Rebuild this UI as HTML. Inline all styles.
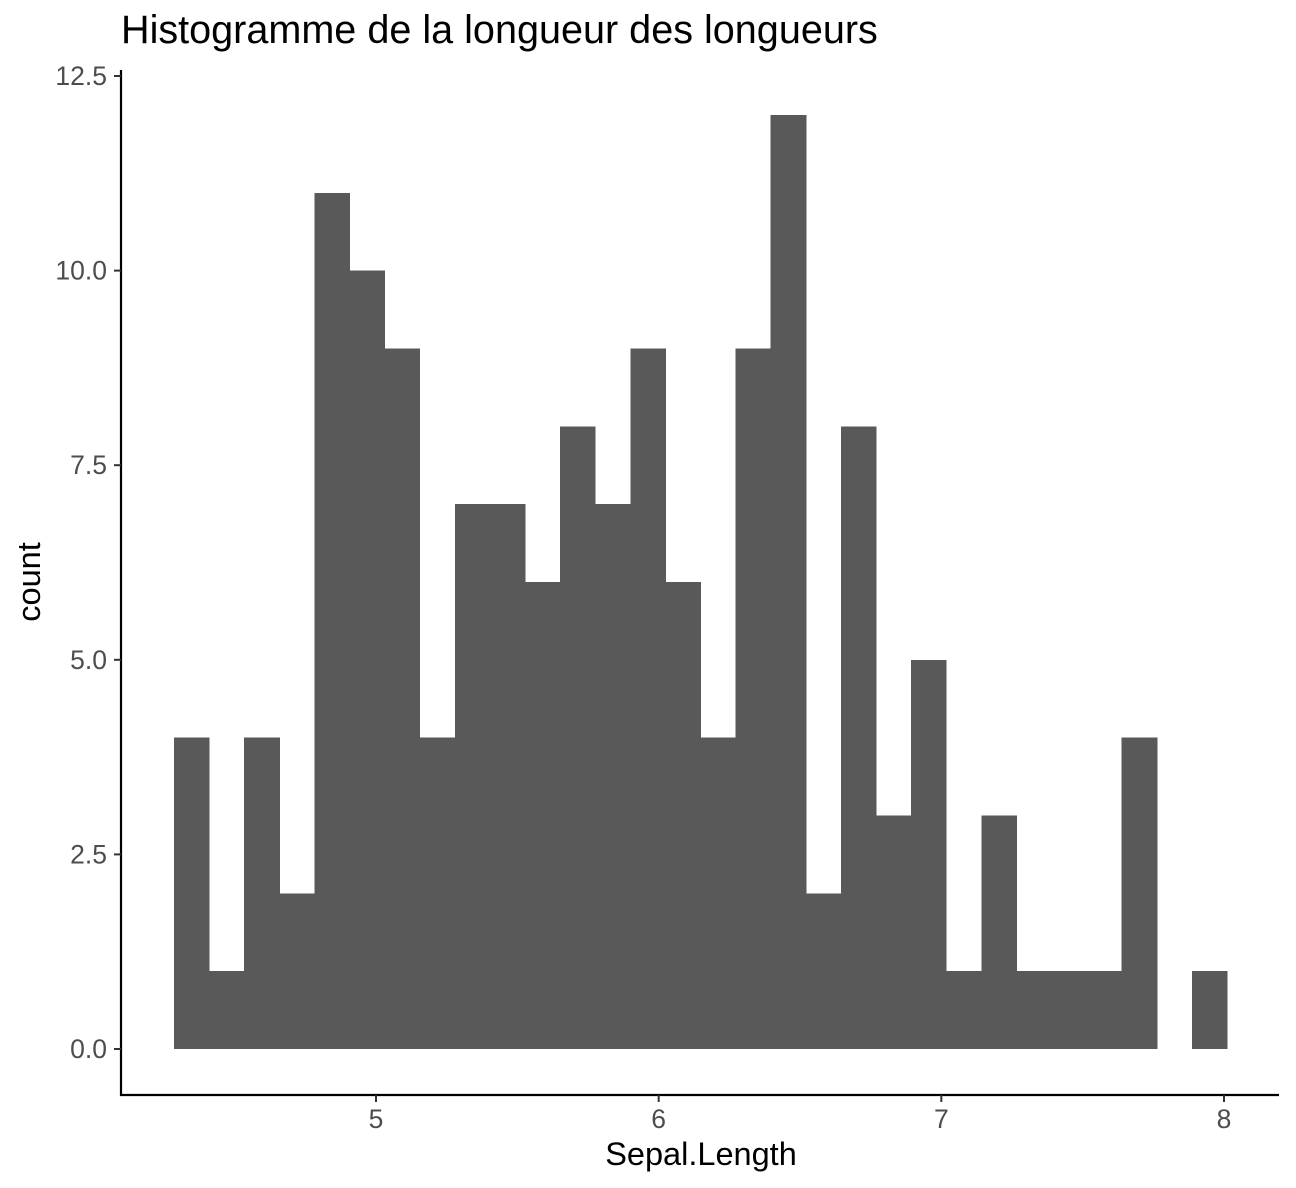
<!DOCTYPE html>
<html>
<head>
<meta charset="utf-8">
<style>
html,body{margin:0;padding:0;background:#fff;}
svg{display:block;font-family:"Liberation Sans",Arial,sans-serif;}
</style>
</head>
<body>
<svg id="chart" width="1296" height="1188" viewBox="0 0 1296 1188">
<text x="121" y="43" font-size="39.6" fill="#000">Histogramme de la longueur des longueurs</text>
<g id="bars" shape-rendering="crispEdges"></g>
<g id="axes"></g>
<text x="701" y="1165" font-size="32.5" text-anchor="middle" fill="#000">Sepal.Length</text>
<text transform="translate(40,582) rotate(-90)" font-size="32.5" text-anchor="middle" fill="#000">count</text>
</svg>
<script>
const counts = [4,1,4,2,11,10,9,4,7,7,6,8,7,9,6,4,9,12,2,8,3,5,1,3,1,1,1,4,0,1];
const binStart = 4.2854;
const binWidth = 0.12418;
const yTicks = [0, 2.5, 5, 7.5, 10, 12.5];
const yTickLabels = ["0.0","2.5","5.0","7.5","10.0","12.5"];
const xTicks = [5, 6, 7, 8];
const xTickLabels = ["5","6","7","8"];

const NS = "http://www.w3.org/2000/svg";
function xs(v){ return 376 + (v - 5) * 282.667; }
function ys(v){ return 1049 - v * 77.84; }
const bars = document.getElementById('bars');
const axes = document.getElementById('axes');
function mk(tag, attrs, parent){
  const e = document.createElementNS(NS, tag);
  for (const k in attrs) e.setAttribute(k, attrs[k]);
  parent.appendChild(e);
  return e;
}
counts.forEach((c, i) => {
  if (c <= 0) return;
  const x0 = xs(binStart + i * binWidth), x1 = xs(binStart + (i + 1) * binWidth);
  const r = mk('rect', {x: x0, y: ys(c), width: x1 - x0 + 0.5, height: ys(0) - ys(c), fill: '#595959'}, bars);
  
  
});
let l = mk('line', {x1:121, y1:70, x2:121, y2:1096, stroke:'#000', 'stroke-width':2.2}, axes);


l = mk('line', {x1:120, y1:1095, x2:1279, y2:1095, stroke:'#000', 'stroke-width':2.2}, axes);


yTicks.forEach((v, i) => {
  const y = ys(v);
  const t = mk('line', {x1:114, y1:y, x2:121, y2:y, stroke:'#333', 'stroke-width':2}, axes);
  
  
  const tx = mk('text', {x:107, y:y + 9, 'font-size':26.5, 'text-anchor':'end', fill:'#4d4d4d'}, axes);
  tx.textContent = yTickLabels[i];
  
  
});
xTicks.forEach((v, i) => {
  const x = xs(v);
  const t = mk('line', {x1:x, y1:1095, x2:x, y2:1102, stroke:'#333', 'stroke-width':2}, axes);
  
  
  const tx = mk('text', {x:x, y:1128, 'font-size':26.5, 'text-anchor':'middle', fill:'#4d4d4d'}, axes);
  tx.textContent = xTickLabels[i];
  
  
});
</script>
</body>
</html>
